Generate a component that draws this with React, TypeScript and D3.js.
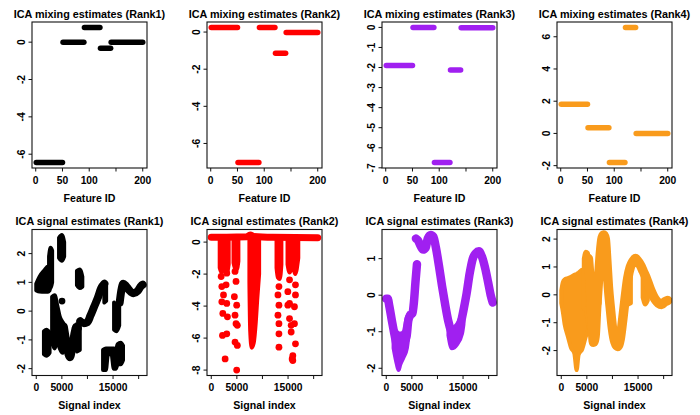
import React from "react";
import * as d3 from "d3";

// feature segments (shared by all ranks)
const segStart = [1, 51, 91, 121, 141];
const segEnd = [50, 90, 120, 140, 200];

// mixing level of each segment
const mixRank1 = [-6.45, 0.0, 0.79, -0.33, 0.0];
const mixRank2 = [0.25, -7.03, 0.25, -1.14, -0.02];
const mixRank3 = [-1.9, 0.0, -6.74, -2.12, -0.02];
const mixRank4 = [1.81, 0.35, -1.81, 6.58, 0.0];

const featureCount = 200;
const signalLength = 20800;

const featureTicks = [0, 50, 100, 150, 200];
const featureTickLabels = ["0", "50", "100", "", "200"];
const signalTicks = [0, 5000, 10000, 15000, 20000];
const signalTickLabels = ["0", "5000", "", "15000", ""];

const mixYTicks = [
  [-6, -4, -2, 0],
  [-6, -4, -2, 0],
  [-7, -6, -5, -4, -3, -2, -1, 0],
  [-2, 0, 2, 4, 6],
];
const sigYTicks = [
  [-2, -1, 0, 1, 2],
  [-8, -6, -4, -2, 0],
  [-2, -1, 0, 1],
  [-2, -1, 0, 1, 2],
];

const colors = ["#000000", "#FF0000", "#A020F0", "#F99B1C"];

// signal estimates: dense blobs as [index, low, high], traces as [index, value]
const rank1Bands = [
  [[1, 0.72, 0.95], [650, 0.68, 1.2], [1600, 0.67, 1.42], [2300, 0.67, 1.55], [2600, 0.72, 1.45]],
  [[2500, 0.9, 1.9], [2800, 0.8, 2.2], [3100, 1.0, 2.1]],
  [[1500, -1.5, -0.7], [2000, -1.55, -0.65], [2600, -1.45, -0.75]],
  [[3100, -1.1, 0.5], [3600, -1.3, 0.55], [4100, -1.0, 0.2], [4600, -1.3, -0.2], [5200, -1.45, -0.4], [5600, -1.2, -0.5]],
  [[7950, -1.4, -0.45], [8500, -1.35, -0.5]],
  [[4450, 1.85, 2.55], [5000, 1.75, 2.65], [5450, 1.9, 2.4]],
  [[7950, 0.9, 1.4], [8500, 0.8, 1.45], [9000, 0.85, 1.2]],
  [[13300, 0.3, 1.0], [13650, 0.35, 0.95]],
  [[13050, -2.05, -1.35], [13600, -2.05, -1.3], [14000, -1.5, -1.3], [14700, -1.5, -1.3], [15150, -2.0, -1.3], [15550, -2.0, -1.35], [15900, -1.85, -1.15], [16500, -1.85, -1.1], [16950, -1.7, -1.2]],
  [[15200, -0.65, 0.3], [15700, -0.7, 0.2], [16200, -0.5, 0.2]],
];
const rank1Lines = [
  [[5400, -0.55], [5900, -1.1], [6300, -1.5], [6600, -1.6], [7000, -1.3], [7500, -0.75], [7800, -0.55], [8100, -0.6]],
  [[8600, -0.35], [9300, -0.42], [10000, -0.38], [10600, -0.15], [11300, 0.15], [12000, 0.45], [12700, 0.8], [13300, 0.95]],
  [[16300, 0.3], [16600, 0.7], [17000, 0.95], [17500, 0.88], [18200, 0.72], [19000, 0.62], [19800, 0.7], [20500, 0.88], [20800, 0.92]],
];
const rank1Dots = [[5030, 0.35]];

const rank2Bands = [
  [[1650, -1.6, 0.3], [2000, -1.9, 0.3], [2500, -1.6, 0.3], [3000, -2.0, 0.3], [3400, -1.4, 0.3]],
  [[4350, -1.3, 0.3], [4600, -1.6, 0.3], [5000, -1.7, 0.3], [5300, -1.2, 0.3]],
  [[7450, -2.5, 0.3], [7600, -5.5, 0.3], [7900, -6.6, 0.3], [8300, -6.3, 0.3], [8700, -5.0, 0.3], [9000, -3.5, 0.3], [9350, -2.0, 0.3]],
  [[12750, -1.6, 0.3], [13000, -2.2, 0.3], [13400, -2.3, 0.3], [13700, -1.4, 0.3]],
  [[14900, -1.4, 0.3], [15300, -1.9, 0.3], [15900, -1.5, 0.3], [16400, -2.0, 0.3], [17000, -1.0, 0.3]],
];
const rank2Lines = [
  [[1, 0.3], [3000, 0.3], [7000, 0.33], [7600, 0.45], [8300, 0.35], [12000, 0.3], [20800, 0.28]],
];
const rank2Dots = [
  [1935, -2.15], [3030, -1.94], [2064, -2.78], [2900, -2.67], [2390, -3.3], [2064, -3.73],
  [3030, -3.83], [2258, -4.46], [3160, -4.67], [2193, -5.83], [3030, -5.73], [2710, -7.3],
  [4644, -1.83], [4838, -2.46], [4515, -3.41], [4967, -3.94], [4644, -4.57], [4838, -5.1],
  [5096, -5.2], [4644, -6.25], [5096, -6.46], [4967, -8.0],
  [13220, -2.78], [13030, -3.3], [13220, -3.94], [13030, -4.57], [13220, -5.1], [13220, -5.73], [13220, -6.57],
  [15290, -2.36], [16450, -2.67], [14960, -3.1], [16450, -3.3], [15290, -3.83], [14960, -3.94],
  [16250, -4.04], [15290, -4.78], [15610, -5.2], [15610, -5.62], [16250, -5.1], [16450, -6.36],
  [15930, -7.1], [15930, -7.4], [15800, -7.3],
];

const rank3Bands = [
  [[1430, -1.45, -0.9], [2080, -1.9, -1.0], [2400, -2.05, -1.05], [2730, -1.9, -1.05], [3380, -1.7, -1.0], [4030, -1.45, -0.6], [4350, -1.1, -0.5]],
  [[12150, -1.1, -0.6], [12800, -1.45, -0.9], [13800, -1.35, -0.8], [14800, -1.05, -0.5], [15080, -0.8, -0.4]],
];
const rank3Lines = [
  [[1, -0.1], [300, -0.1], [600, -0.3], [1100, -0.7], [1500, -1.0], [2000, -1.35], [2500, -1.6], [3000, -1.5], [3500, -1.3], [4000, -1.1], [4300, -0.7], [4700, -0.55], [5100, -0.5], [5400, -0.2], [5700, 0.35], [6000, 0.85]],
  [[5800, 1.55], [6200, 1.5], [6700, 1.35], [7200, 1.25], [7700, 1.3], [8100, 1.55], [8700, 1.65], [9200, 1.6], [9700, 1.3], [10300, 0.8], [10900, 0.25], [11500, -0.25], [12100, -0.7], [12700, -1.0], [13300, -1.15], [13900, -1.1], [14500, -0.8], [15100, -0.4], [15700, 0.05], [16300, 0.6], [16900, 1.0], [17500, 1.15], [18100, 1.2], [18700, 1.05], [19300, 0.75], [19900, 0.35], [20400, 0.0], [20800, -0.2]],
];

const rank4Bands = [
  [[1, -0.3, 0.15], [300, -0.6, 0.45], [650, -1.05, 0.55], [1300, -1.5, 0.6], [1900, -1.9, 0.65], [2550, -2.1, 0.72], [3000, -2.7, 0.75], [3400, -2.15, 0.8], [4100, -1.95, 0.9], [4800, -1.5, 0.9], [5400, -1.2, 0.7]],
  [[4400, -0.5, 1.3], [4800, -0.5, 1.55], [5200, -1.0, 1.5], [5500, -1.2, 1.0]],
  [[7000, -0.6, 0.5], [7500, -0.3, 1.0]],
  [[13100, -0.35, 0.7], [13600, -0.3, 1.0]],
  [[15900, -0.1, 0.9], [16400, -0.35, 0.7], [16900, -0.2, 0.5]],
];
const rank4Lines = [
  [[5300, 1.3], [5700, 0.3], [6000, -0.9], [6300, -1.7], [6600, -1.5], [6900, -0.5], [7300, 0.6], [7650, 1.5], [8000, 2.05], [8300, 2.15], [8600, 2.0], [8900, 1.2], [9200, 0.3], [9600, -0.5], [10000, -1.2], [10500, -1.7], [11000, -1.85], [11500, -1.6], [12000, -0.9], [12500, -0.1], [13000, 0.6], [13500, 1.0], [14000, 1.2], [14500, 1.3], [15000, 1.2], [15500, 1.05], [16000, 0.85], [16500, 0.65], [17000, 0.4], [17500, 0.15], [18000, -0.05], [18500, -0.2], [19000, -0.3], [19600, -0.35], [20200, -0.25], [20800, -0.2]],
];

const mixPanels = [mixRank1, mixRank2, mixRank3, mixRank4];
const sigPanels = [
  { bands: rank1Bands, lines: rank1Lines, dots: rank1Dots, width: 8 },
  { bands: rank2Bands, lines: rank2Lines, dots: rank2Dots, width: 7 },
  { bands: rank3Bands, lines: rank3Lines, dots: [], width: 8.5 },
  { bands: rank4Bands, lines: rank4Lines, dots: [], width: 9.5 },
];

const FONT = "'Liberation Sans', Arial, Helvetica, sans-serif";
const COL_W = 175;
const ROW_H = 207.5;

// R style axis range: 4% on each side
const pad = (lo: number, hi: number) => {
  const r = hi - lo;
  return [lo - 0.04 * r, hi + 0.04 * r];
};

const Frame = ({ col, row, title, xlab, x, y, xTicks, xLabels, yTicks, children }: any) => {
  const left = col * COL_W + 32;
  const top = row * ROW_H + 22;
  const w = 115;
  const h = 146;
  const id = `clip-${row}-${col}`;
  return (
    <g fontFamily={FONT} fontWeight="bold" fill="#000">
      <text x={left + w / 2} y={top - 4.5} textAnchor="middle" fontSize={10.8}>
        {title}
      </text>
      <clipPath id={id}>
        <rect x={left} y={top} width={w} height={h} />
      </clipPath>
      <g clipPath={`url(#${id})`}>{children(left, top, w, h)}</g>
      <rect x={left} y={top} width={w} height={h} fill="none" stroke="#111" strokeWidth={1.1} />
      {xTicks.map((t: number, i: number) => {
        const px = left + x(t);
        return (
          <g key={"x" + t}>
            <line x1={px} x2={px} y1={top + h} y2={top + h + 3.5} stroke="#111" strokeWidth={1} />
            {xLabels[i] && (
              <text x={px} y={top + h + 15.5} textAnchor="middle" fontSize={10.3}>
                {xLabels[i]}
              </text>
            )}
          </g>
        );
      })}
      {yTicks.map((t: number) => {
        const py = top + y(t);
        return (
          <g key={"y" + t}>
            <line x1={left - 3.5} x2={left} y1={py} y2={py} stroke="#111" strokeWidth={1} />
            <text
              transform={`translate(${left - 7.5},${py}) rotate(-90)`}
              textAnchor="middle"
              fontSize={10.3}
            >
              {t}
            </text>
          </g>
        );
      })}
      <text x={left + w / 2} y={top + h + 33.5} textAnchor="middle" fontSize={10.6}>
        {xlab}
      </text>
    </g>
  );
};

const MixPanel = ({ col }: { col: number }) => {
  const levels = mixPanels[col];
  const x = d3.scaleLinear().domain(pad(1, featureCount)).range([0, 115]);
  const y = d3
    .scaleLinear()
    .domain(pad(d3.min(levels)!, d3.max(levels)!))
    .range([146, 0]);
  return (
    <Frame
      col={col}
      row={0}
      title={`ICA mixing estimates (Rank${col + 1})`}
      xlab="Feature ID"
      x={x}
      y={y}
      xTicks={featureTicks}
      xLabels={featureTickLabels}
      yTicks={mixYTicks[col]}
    >
      {(left: number, top: number) =>
        levels.map((v, i) => (
          <line
            key={i}
            x1={left + x(segStart[i])}
            x2={left + x(segEnd[i])}
            y1={top + y(v)}
            y2={top + y(v)}
            stroke={colors[col]}
            strokeWidth={5.5}
            strokeLinecap="round"
          />
        ))
      }
    </Frame>
  );
};

const SignalPanel = ({ col }: { col: number }) => {
  const { bands, lines, dots, width } = sigPanels[col];
  const values: number[] = [];
  bands.forEach((b: any) => b.forEach((d: number[]) => values.push(d[1], d[2])));
  lines.forEach((l: any) => l.forEach((d: number[]) => values.push(d[1])));
  dots.forEach((d: number[]) => values.push(d[1]));
  const x = d3.scaleLinear().domain(pad(1, signalLength)).range([0, 115]);
  const y = d3
    .scaleLinear()
    .domain(pad(d3.min(values)!, d3.max(values)!))
    .range([146, 0]);
  const color = colors[col];
  return (
    <Frame
      col={col}
      row={1}
      title={`ICA signal estimates (Rank${col + 1})`}
      xlab="Signal index"
      x={x}
      y={y}
      xTicks={signalTicks}
      xLabels={signalTickLabels}
      yTicks={sigYTicks[col]}
    >
      {(left: number, top: number) => {
        const area = d3
          .area<number[]>()
          .x((d) => left + x(d[0]))
          .y0((d) => top + y(d[1]))
          .y1((d) => top + y(d[2]))
          .curve(d3.curveMonotoneX);
        const line = d3
          .line<number[]>()
          .x((d) => left + x(d[0]))
          .y((d) => top + y(d[1]))
          .curve(d3.curveMonotoneX);
        return (
          <g>
            {bands.map((b: any, i: number) => (
              <path
                key={"b" + i}
                d={area(b) || ""}
                fill={color}
                stroke={color}
                strokeWidth={4}
                strokeLinejoin="round"
              />
            ))}
            {lines.map((l: any, i: number) => (
              <path
                key={"l" + i}
                d={line(l) || ""}
                fill="none"
                stroke={color}
                strokeWidth={width}
                strokeLinecap="round"
                strokeLinejoin="round"
              />
            ))}
            {dots.map((d: number[], i: number) => (
              <circle key={"d" + i} cx={left + x(d[0])} cy={top + y(d[1])} r={3.4} fill={color} />
            ))}
          </g>
        );
      }}
    </Frame>
  );
};

const App = () => (
  <svg
    width={700}
    height={415}
    style={{ position: "absolute", left: 0, top: 0, display: "block" }}
  >
    <rect width={700} height={415} fill="#fff" />
    {[0, 1, 2, 3].map((c) => (
      <MixPanel key={"m" + c} col={c} />
    ))}
    {[0, 1, 2, 3].map((c) => (
      <SignalPanel key={"s" + c} col={c} />
    ))}
  </svg>
);

export default App;
